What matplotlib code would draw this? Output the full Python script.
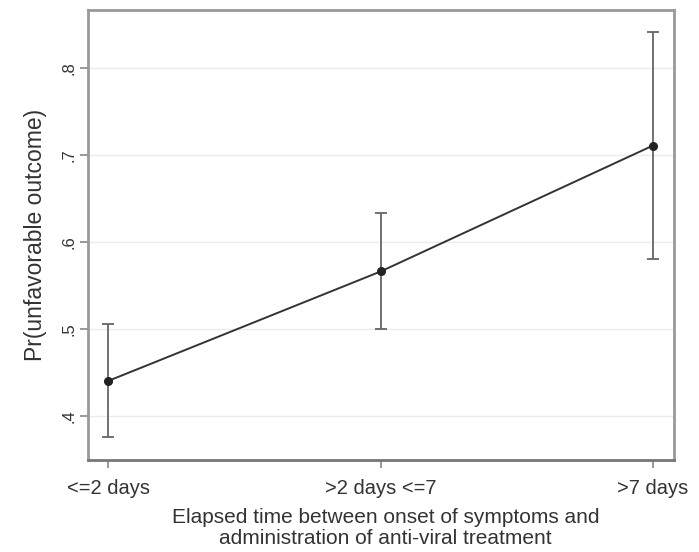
import matplotlib.pyplot as plt
import numpy as np

plt.rcParams['font.family'] = ['Liberation Sans', 'DejaVu Sans']

categories = ['<=2 days', '>2 days <=7', '>7 days']
prob = [0.440, 0.566, 0.711]
ci_low = [0.375, 0.500, 0.580]
ci_high = [0.505, 0.633, 0.842]
yticks = [0.4, 0.5, 0.6, 0.7, 0.8]
ytick_labels = ['.4', '.5', '.6', '.7', '.8']

fig = plt.figure(figsize=(6.99, 5.52), dpi=100)
ax = fig.add_axes([88 / 699, 92 / 552, 586 / 699, 450 / 552])

x = np.arange(1, len(categories) + 1)
prob = np.array(prob)
yerr = [prob - np.array(ci_low), np.array(ci_high) - prob]
ax.errorbar(x, prob, yerr=yerr, fmt='none', ecolor='#666666', elinewidth=1.3,
            capsize=4.5, capthick=1.3, zorder=2)
ax.plot(x, prob, '-', color='#333333', lw=1.4, zorder=3)
ax.plot(x, prob, 'o', color='#222222', ms=5.5, zorder=4)

ax.set_xlim(0.926, 3.077)
ax.set_ylim(0.349, 0.867)
ax.set_xticks(x)
ax.set_xticklabels(categories, fontsize=14.5, color='#333333')
ax.set_yticks(yticks)
ax.set_yticklabels(ytick_labels, fontsize=12, color='#333333', rotation=90, va='center')
ax.grid(axis='y', color='#ececec', lw=1)
ax.set_axisbelow(True)
for name, s in ax.spines.items():
    s.set_color('#777777' if name == 'bottom' else '#999999')
    s.set_linewidth(2)
ax.tick_params(color='#888888', length=6, width=1.2)
ax.tick_params(axis='x', pad=8)
ax.tick_params(axis='y', pad=2)

ax.set_ylabel('Pr(unfavorable outcome)', fontsize=16.5, color='#333333')
ax.yaxis.set_label_coords(-52 / 586, 0.5)
ax.yaxis.label.set_va('center')
ax.yaxis.label.set_ha('center')

ax.set_xlabel('Elapsed time between onset of symptoms and\nadministration of anti-viral treatment',
              fontsize=15, color='#333333', linespacing=1.15)
ax.xaxis.set_label_coords(0.508, -48 / 450)
ax.xaxis.label.set_va('top')

fig.savefig('out.png', dpi=100)
